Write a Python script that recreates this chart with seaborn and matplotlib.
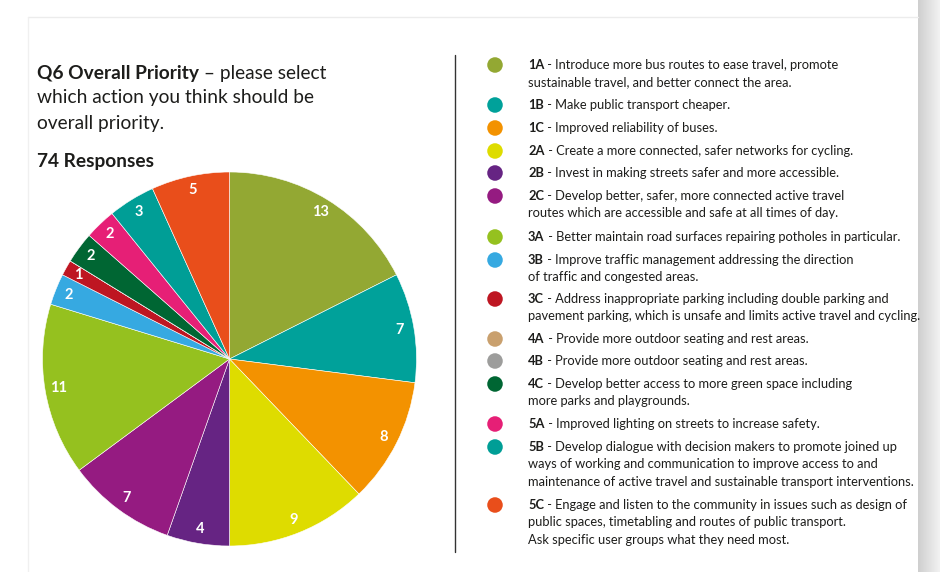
import numpy as np
import pandas as pd
import matplotlib
matplotlib.use("Agg")
import matplotlib.pyplot as plt
import seaborn as sns

# ---------------- data ----------------
codes = ["1A", "1B", "1C", "2A", "2B", "2C", "3A", "3B", "3C",
         "4A", "4B", "4C", "5A", "5B", "5C"]
counts = [13, 7, 8, 9, 4, 7, 11, 2, 1, 0, 0, 2, 2, 3, 5]
colors = ["#93A833", "#00A19A", "#F39200", "#DEDC00", "#662483", "#951B81",
          "#95C11F", "#36A9E1", "#BE1622", "#C9A06E", "#9D9D9C", "#006633",
          "#E61F76", "#009E96", "#E94E1B"]
descriptions = [
    ["Introduce more bus routes to ease travel, promote",
     "sustainable travel, and better connect the area."],
    ["Make public transport cheaper."],
    ["Improved reliability of buses."],
    ["Create a more connected, safer networks for cycling."],
    ["Invest in making streets safer and more accessible."],
    ["Develop better, safer, more connected active travel",
     "routes which are accessible and safe at all times of day."],
    ["Better maintain road surfaces repairing potholes in particular."],
    ["Improve traffic management addressing the direction",
     "of traffic and congested areas."],
    ["Address inappropriate parking including double parking and",
     "pavement parking, which is unsafe and limits active travel and cycling."],
    ["Provide more outdoor seating and rest areas."],
    ["Provide more outdoor seating and rest areas."],
    ["Develop better access to more green space including",
     "more parks and playgrounds."],
    ["Improved lighting on streets to increase safety."],
    ["Develop dialogue with decision makers to promote joined up",
     "ways of working and communication to improve access to and",
     "maintenance of active travel and sustainable transport interventions."],
    ["Engage and listen to the community in issues such as design of",
     "public spaces, timetabling and routes of public transport.",
     "Ask specific user groups what they need most."],
]
title_bold = "Q6 Overall Priority"
title_rest = " \u2013 please select"
title_lines = ["which action you think should be", "overall priority."]
subtitle = "74 Responses"

df = pd.DataFrame({"code": codes, "count": counts, "color": colors})

# ---------------- figure ----------------
sns.set_theme(style="white")
FONT = "Lato"
plt.rcParams["font.family"] = [FONT, "DejaVu Sans"]
TXT = "#1d1d1b"

W, H = 940, 572
fig = plt.figure(figsize=(W / 100, H / 100), dpi=100)
fig.patch.set_facecolor("white")

# background overlay in pixel coords
bg = fig.add_axes([0, 0, 1, 1])
bg.set_xlim(0, W)
bg.set_ylim(H, 0)
bg.axis("off")
grad = np.linspace(0, 1, 50)[None, :]
bg.imshow(grad, extent=(918, 940, H, 0), cmap=matplotlib.colors.LinearSegmentedColormap.from_list(
    "sh", ["#cfcfcf", "#f2f2f2"]), aspect="auto", zorder=0)
bg.plot([28, 918], [17, 17], color="#ececec", lw=1, zorder=1)
bg.plot([28, 28], [17, H], color="#f0f0f0", lw=1, zorder=1)
bg.plot([455, 455], [55, 552], color="#333333", lw=1.0, zorder=2)
bg.set_xlim(0, W)
bg.set_ylim(H, 0)

renderer = fig.canvas.get_renderer()


def px(x, y):
    return x / W, 1 - y / H


def text_width(t):
    return t.get_window_extent(renderer=renderer).width

# title
tsize = 13.8
t1 = fig.text(*px(37, 73), title_bold, fontsize=tsize, fontweight="bold",
              color=TXT, va="center", ha="left")
w1 = text_width(t1)
fig.text(37 / W + w1 / W, 1 - 73 / H, title_rest, fontsize=tsize,
         color=TXT, va="center", ha="left")
for i, line in enumerate(title_lines):
    fig.text(*px(37, 98 + 25 * i), line, fontsize=tsize, color=TXT,
             va="center", ha="left")
fig.text(*px(37, 161), subtitle, fontsize=tsize, fontweight="bold",
         color=TXT, va="center", ha="left")

# legend
row_y = [65, 105, 128, 151, 173, 196, 237, 260, 299, 339, 361, 384, 424, 447, 505]
lsize = 9.3
for code, col, desc, y in zip(df["code"], df["color"], descriptions, row_y):
    bg.scatter([495], [y], s=125, color=col, edgecolor="none", zorder=3)
    tb = fig.text(*px(528, y), code, fontsize=lsize, fontweight="bold",
                  color=TXT, va="center", ha="left")
    wb = text_width(tb)
    fig.text(528 / W + wb / W, 1 - y / H, " - " + desc[0], fontsize=lsize,
             color=TXT, va="center", ha="left")
    for j, line in enumerate(desc[1:], start=1):
        fig.text(*px(528, y + 17.3 * j), line, fontsize=lsize,
                 color=TXT, va="center", ha="left")

# pie
cx, cy, r = 229.5, 359, 187
ax = fig.add_axes([(cx - r) / W, 1 - (cy + r) / H, 2 * r / W, 2 * r / H])
wedges, _ = ax.pie(df["count"], colors=df["color"], startangle=90,
                   counterclock=False,
                   wedgeprops=dict(edgecolor="white", linewidth=0.4))
ax.set_xlim(-1, 1)
ax.set_ylim(-1, 1)
ax.set_aspect("equal")
for w, c in zip(wedges, df["count"]):
    if c <= 0:
        continue
    ang = np.deg2rad((w.theta1 + w.theta2) / 2)
    rr = 0.925
    ax.text(rr * np.cos(ang), rr * np.sin(ang), str(c), color="white",
            fontsize=10.5, fontweight="bold", ha="center", va="center")

fig.savefig("out.png", dpi=100, facecolor="white")
